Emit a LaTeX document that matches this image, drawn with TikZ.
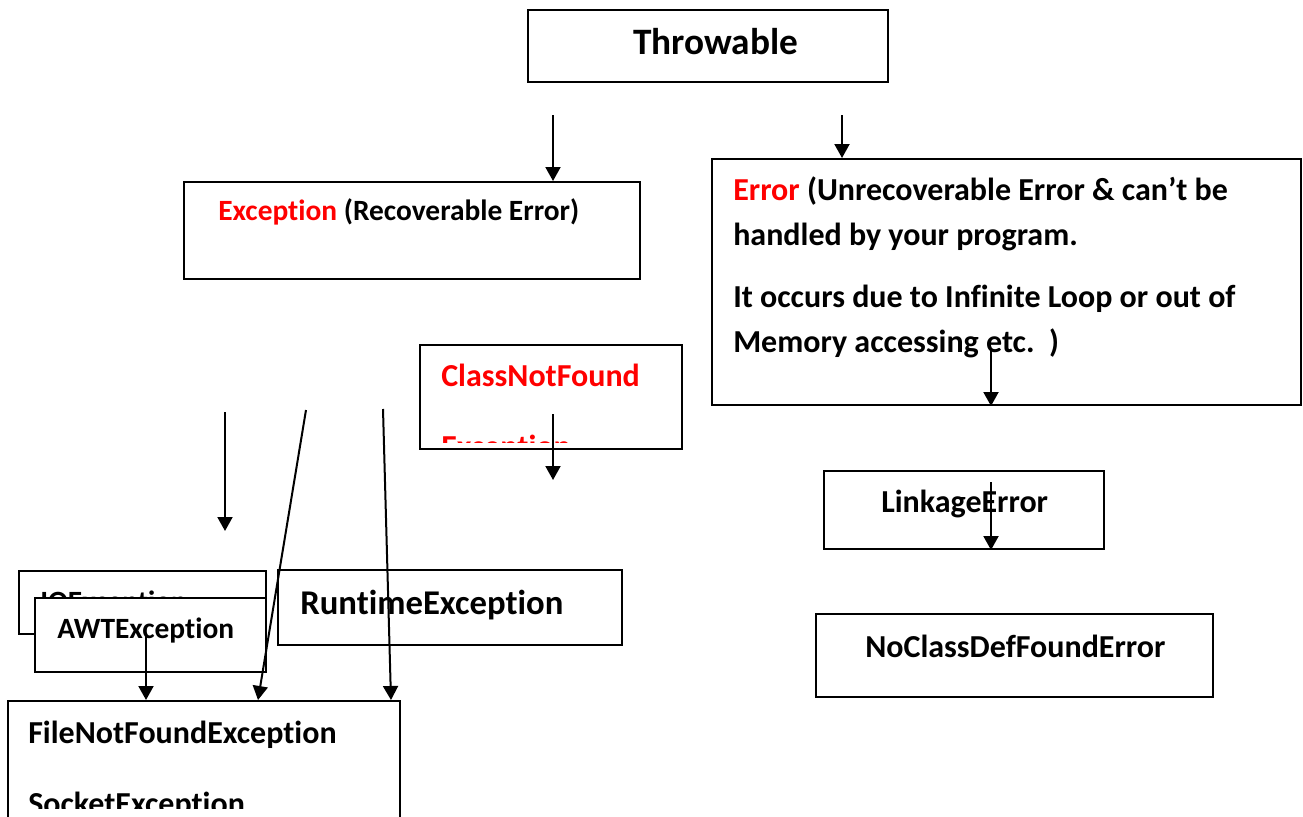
\documentclass[tikz,border=0pt]{standalone}
\usepackage{fontspec}
\setmainfont{Carlito}[Ligatures={NoCommon}]
\usetikzlibrary{arrows.meta,fit}
\definecolor{errred}{RGB}{255,0,0}
\newcommand\pxfont[1]{\fontsize{\fpeval{#1*0.75}pt}{\fpeval{#1*0.9}pt}\selectfont}
\tikzset{
  box/.style={draw=black, line width=1.5pt, fill=white, inner sep=0pt},
  lbl/.style={anchor=base west, inner sep=0pt, font=\bfseries},
  arr/.style={line width=1.5pt, -{Triangle[width=11.25pt,length=10.5pt]}}
}
\begin{document}
\begin{tikzpicture}[x=0.75pt,y=-0.75pt]
\clip (0,0) rectangle (1303,817);
\fill[white] (0,0) rectangle (1303,817);

% Throwable
\node[box, fit={(528,10) (888,82)}] (thr) {};
\node[lbl] (thrT) at (633,55) {\pxfont{37.3}Throwable};

% Exception
\node[box, fit={(184,182) (640,279)}] (exc) {};
\node[lbl] (excT) at (218,220) {\pxfont{29.4}\textcolor{errred}{Exception} (Recoverable Error)};

% Error
\node[box, fit={(712,159) (1301,405)}] (err) {};
\node[lbl] (errT1) at (733,200) {\pxfont{32}\textcolor{errred}{Error} (Unrecoverable Error \& can’t be};
\node[lbl] (errT2) at (733,245) {\pxfont{32}handled by your program.};
\node[lbl] (errT3) at (733,307) {\pxfont{32}It occurs due to Infinite Loop or out of};
\node[lbl] (errT4) at (733,352) {\pxfont{32}Memory accessing etc.~~)};

% ClassNotFound
\node[box, fit={(420,345) (682,449)}] (cnf) {};
\begin{scope}
\clip (421,346) rectangle (681,442);
\node[lbl] (cnfT1) at (441,386) {\pxfont{32}\textcolor{errred}{ClassNotFound}};
\node[lbl] (cnfT2) at (441,457) {\pxfont{32}\textcolor{errred}{Exception}};
\end{scope}

% IOException (covered by AWTException)
\node[box, fit={(19,571) (266,634)}] (io) {};
\node[lbl] (ioT) at (40,611) {\pxfont{29.4}IOException};

% AWTException
\node[box, fit={(35,598) (266,672)}] (awt) {};
\node[lbl] (awtT) at (57,638) {\pxfont{29.4}AWTException};

% RuntimeException
\node[box, fit={(278,570) (622,645)}] (rte) {};
\node[lbl] (rteT) at (300,614) {\pxfont{34.7}RuntimeException};

% FileNotFound / Socket
\node[box, fit={(8,701) (400,840)}] (fnf) {};
\node[lbl] (fnfT) at (28,743) {\pxfont{32}FileNotFoundException};
\begin{scope}
\clip (10,780) rectangle (398,808);
\node[lbl] (sockT) at (28,814) {\pxfont{32}SocketException};
\end{scope}

% LinkageError
\node[box, fit={(824,471) (1104,549)}] (lnk) {};
\node[lbl] (lnkT) at (881,512) {\pxfont{32}LinkageError};

% NoClassDefFoundError
\node[box, fit={(816,614) (1213,697)}] (ncd) {};
\node[lbl] (ncdT) at (865,657) {\pxfont{32}NoClassDefFoundError};

% connectors
\coordinate (s1) at (553,115);
\coordinate (s2) at (842,115);
\coordinate (s3) at (991,349);
\coordinate (s4) at (991,482);
\coordinate (s5) at (553,414);
\coordinate (e5) at (553,480);
\coordinate (s6) at (225,412);
\coordinate (e6) at (225,531);
\coordinate (s7) at (306,410);
\coordinate (e7) at (258,701);
\coordinate (s8) at (383,409);
\coordinate (e8) at (391,701);
\coordinate (s9) at (146,633);

\draw[arr] (s1) -- (s1 |- exc.north);
\draw[arr] (s2) -- (s2 |- err.north);
\draw[arr] (s3) -- (s3 |- err.south);
\draw[arr] (s4) -- (s4 |- lnk.south);
\draw[arr] (s5) -- (e5);
\draw[arr] (s6) -- (e6);
\draw[arr] (s7) -- (e7 |- fnf.north);
\draw[arr] (s8) -- (e8 |- fnf.north);
\draw[arr] (s9) -- (s9 |- fnf.north);
\end{tikzpicture}
\end{document}
